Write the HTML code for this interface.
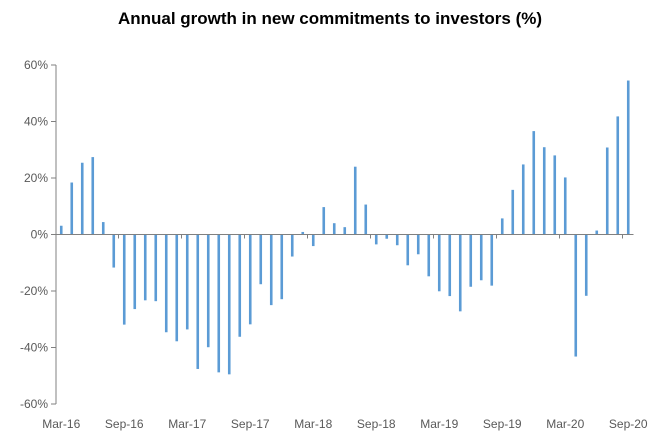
<!DOCTYPE html>
<html><head><meta charset="utf-8"><style>
body{margin:0;background:#fff;}
svg text{font-family:"Liberation Sans",sans-serif;}
</style></head><body>
<svg id="chart" width="660" height="439" xmlns="http://www.w3.org/2000/svg">
<text x="330" y="24" text-anchor="middle" font-size="17" font-weight="bold" fill="#000">Annual growth in new commitments to investors (%)</text>
<g id="yaxis"></g>
<g id="bars"></g>
<g id="xaxis"></g>
</svg>
<script>
const values = [3.1,18.4,25.4,27.4,4.4,-11.7,-31.9,-26.4,-23.3,-23.6,-34.6,-37.8,-33.6,-47.6,-39.9,-48.8,-49.5,-36.2,-31.8,-17.6,-25.0,-22.9,-7.8,0.9,-4.1,9.7,4.0,2.6,24.0,10.6,-3.5,-1.5,-3.8,-10.9,-7.0,-14.8,-20.1,-21.8,-27.2,-18.5,-16.2,-18.1,5.7,15.8,24.8,36.6,30.9,28.0,20.2,-43.2,-21.7,1.4,30.8,41.8,54.5];
const xLabels = ["Mar-16","Sep-16","Mar-17","Sep-17","Mar-18","Sep-18","Mar-19","Sep-19","Mar-20","Sep-20"];
const yTicks = [60,40,20,0,-20,-40,-60];
const NS="http://www.w3.org/2000/svg";
const x0=56, band=10.5, yTop=65, yBot=404;
const y=v=>yTop+(60-v)/120*(yBot-yTop);
const xc=i=>x0+(i+0.5)*band;
function mk(tag,attrs,parent){const e=document.createElementNS(NS,tag);for(const k in attrs)e.setAttribute(k,attrs[k]);parent.appendChild(e);return e;}
const ya=document.getElementById('yaxis'),bg=document.getElementById('bars'),xa=document.getElementById('xaxis');
const yl=mk('line',{x1:x0,x2:x0,y1:yTop,y2:yBot,stroke:'#808080','stroke-width':1},ya);


yTicks.forEach(t=>{
  const tk=mk('line',{x1:x0-5,x2:x0,y1:y(t),y2:y(t),stroke:'#808080'},ya);
  
  
  const tx=mk('text',{x:x0-8,y:y(t)+4,'text-anchor':'end','font-size':12,fill:'#595959'},ya);
  tx.textContent=t+'%';
  
  
});
values.forEach((v,i)=>{
  const r=mk('rect',{x:xc(i)-1.3,width:2.6,y:Math.min(y(v),y(0)),height:Math.abs(y(v)-y(0)),fill:'#5B9BD5'},bg);
  
  
});
const xl=mk('line',{x1:x0,x2:x0+values.length*band,y1:y(0),y2:y(0),stroke:'#808080','stroke-width':1},xa);


xLabels.forEach((l,j)=>{
  const i=j*6;
  if(j>0){const tk=mk('line',{x1:x0+i*band-0.5,x2:x0+i*band-0.5,y1:y(0),y2:y(0)+4,stroke:'#808080'},xa);
  
  }
  const tx=mk('text',{x:xc(i),y:428,'text-anchor':'middle','font-size':12,fill:'#595959'},xa);
  tx.textContent=l;
  
  
});
</script>
</body></html>
